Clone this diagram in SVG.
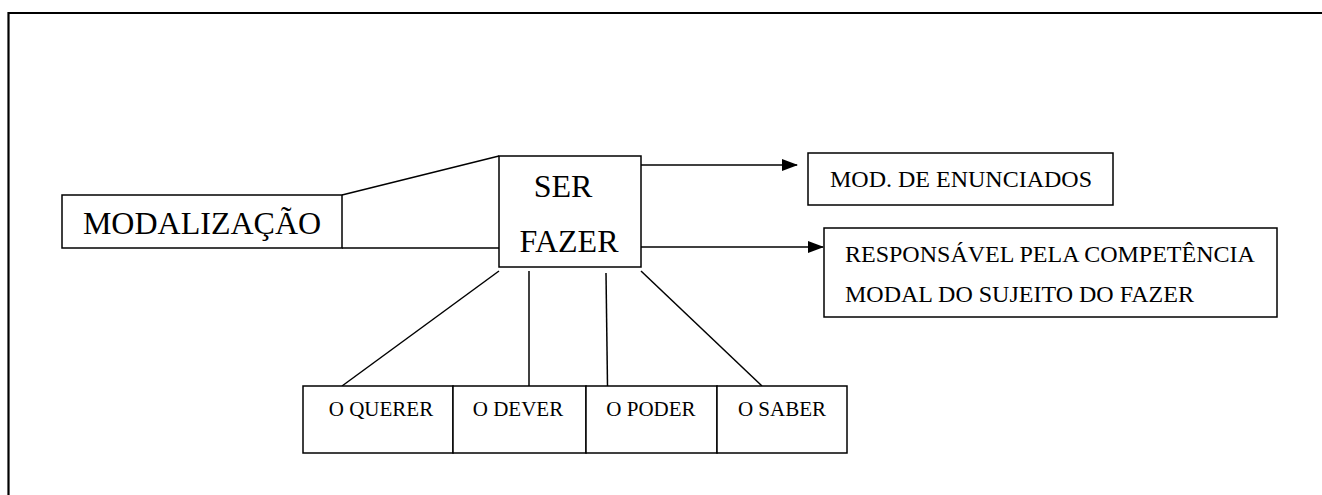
<svg xmlns="http://www.w3.org/2000/svg" width="1322" height="495" viewBox="0 0 1322 495">
<defs>
<style>
.b{fill:#fff;stroke:#000;stroke-width:1.5}
.l{fill:none;stroke:#000;stroke-width:1.5}
text{fill:#000}
</style>
<marker id="ah" markerWidth="16" markerHeight="12" refX="15" refY="6" orient="auto" markerUnits="userSpaceOnUse">
<path d="M0,0 L16,6 L0,12 Z" fill="#000"/>
</marker>
</defs>
<rect width="1322" height="495" fill="#fff"/>
<path d="M8.5,495 V13 H1322" fill="none" stroke="#000" stroke-width="2.2"/>
<g id="connectors">
<line class="l" x1="342" y1="195" x2="499" y2="156"/>
<line class="l" x1="342" y1="248" x2="499" y2="248"/>
<line class="l" x1="641" y1="165" x2="797" y2="165" marker-end="url(#ah)"/>
<line class="l" x1="641" y1="247" x2="823" y2="247" marker-end="url(#ah)"/>
<line class="l" x1="499" y1="271" x2="342" y2="386"/>
<line class="l" x1="529" y1="271" x2="529" y2="386"/>
<line class="l" x1="606" y1="273" x2="607.5" y2="386"/>
<line class="l" x1="641" y1="271" x2="762" y2="386"/>
</g>
<g font-family="'Liberation Serif', 'DejaVu Serif', serif">
<g id="modalizacao">
<rect class="b" x="62" y="195" width="280" height="53"/>
<text x="202" y="234" font-size="32" text-anchor="middle">MODALIZAÇÃO</text>
</g>
<g id="ser-fazer">
<rect class="b" x="499" y="156" width="142" height="111"/>
<text x="563" y="197" font-size="32" text-anchor="middle">SER</text>
<text x="569" y="252" font-size="32" text-anchor="middle">FAZER</text>
</g>
<g id="mod-enunciados">
<rect class="b" x="808" y="153" width="305" height="52"/>
<text x="830" y="187" font-size="24">MOD. DE ENUNCIADOS</text>
</g>
<g id="responsavel">
<rect class="b" x="824" y="228" width="453" height="89"/>
<text x="845" y="262" font-size="24">RESPONSÁVEL PELA COMPETÊNCIA</text>
<text x="845" y="302" font-size="24">MODAL DO SUJEITO DO FAZER</text>
</g>
<g id="o-querer">
<rect class="b" x="303" y="386" width="150" height="67"/>
<text x="381" y="416" font-size="21" text-anchor="middle">O QUERER</text>
</g>
<g id="o-dever">
<rect class="b" x="453" y="386" width="133" height="67"/>
<text x="518" y="416" font-size="21" text-anchor="middle">O DEVER</text>
</g>
<g id="o-poder">
<rect class="b" x="586" y="386" width="131" height="67"/>
<text x="651" y="416" font-size="21" text-anchor="middle">O PODER</text>
</g>
<g id="o-saber">
<rect class="b" x="717" y="386" width="130" height="67"/>
<text x="782" y="416" font-size="21" text-anchor="middle">O SABER</text>
</g>
</g>
</svg>
